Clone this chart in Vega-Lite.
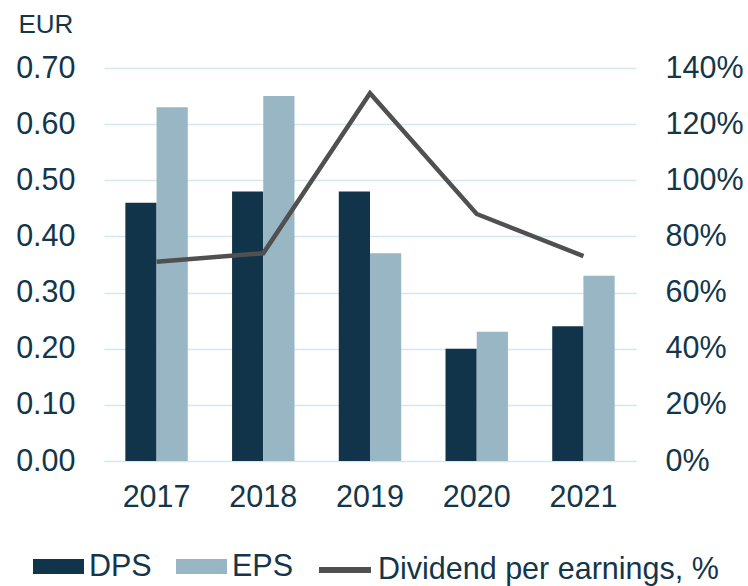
{
  "$schema": "https://vega.github.io/schema/vega-lite/v6.json",
  "autosize": {"type": "none"},
  "width": 532,
  "height": 393,
  "padding": {"left": 104, "top": 68, "right": 112, "bottom": 125},
  "background": "white",
  "config": {
    "view": {"stroke": null},
    "font": "Liberation Sans",
    "axis": {"labelFont": "Liberation Sans", "titleFont": "Liberation Sans", "labelColor": "#14364a", "titleColor": "#14364a"},
    "legend": {"labelFont": "Liberation Sans", "labelColor": "#14364a"}
  },
  "data": {
    "values": [
      {"year": "2017", "DPS": 0.46, "EPS": 0.63, "ratio": 0.71},
      {"year": "2018", "DPS": 0.48, "EPS": 0.65, "ratio": 0.74},
      {"year": "2019", "DPS": 0.48, "EPS": 0.37, "ratio": 1.31},
      {"year": "2020", "DPS": 0.20, "EPS": 0.23, "ratio": 0.88},
      {"year": "2021", "DPS": 0.24, "EPS": 0.33, "ratio": 0.73}
    ]
  },
  "encoding": {
    "x": {
      "field": "year", "type": "nominal",
      "scale": {"paddingInner": 0.415, "paddingOuter": 0.2},
      "axis": {"title": null, "labelAngle": 0, "labelFontSize": 30.5, "labelPadding": 21, "domain": false, "ticks": false}
    }
  },
  "layer": [
    {
      "transform": [{"fold": ["DPS", "EPS"], "as": ["series", "value"]}],
      "mark": {"type": "bar"},
      "encoding": {
        "xOffset": {"field": "series", "type": "nominal", "scale": {"paddingInner": 0, "paddingOuter": 0}},
        "y": {
          "field": "value", "type": "quantitative",
          "scale": {"domain": [0, 0.7], "nice": false},
          "axis": {
            "values": [0, 0.1, 0.2, 0.3, 0.4, 0.5, 0.6, 0.7], "format": ".2f",
            "labelFontSize": 30.5, "labelPadding": 29, "domain": false, "ticks": false,
            "grid": true, "gridColor": "#d3e6f1", "gridWidth": 1.5,
            "title": "EUR", "titleAngle": 0, "titleAlign": "left", "titleBaseline": "top",
            "titleX": -86, "titleY": -57, "titleFontSize": 26, "titleFontWeight": "normal"
          }
        },
        "color": {
          "field": "series", "type": "nominal",
          "scale": {"domain": ["DPS", "EPS"], "range": ["#12344a", "#98b6c3"]},
          "legend": {
            "title": null, "orient": "none", "direction": "horizontal",
            "legendX": -71, "legendY": 473,
            "symbolType": "M-1,-0.29H1V0.29H-1Z", "symbolSize": 2600,
            "symbolStrokeWidth": 0, "labelFontSize": 30.5, "labelOffset": 5, "columnPadding": 24, "labelLimit": 400
          }
        }
      }
    },
    {
      "mark": {"type": "line", "color": "#505050", "strokeWidth": 4.5},
      "encoding": {
        "y": {
          "field": "ratio", "type": "quantitative",
          "scale": {"domain": [0, 1.4], "nice": false},
          "axis": {
            "orient": "right", "values": [0, 0.2, 0.4, 0.6, 0.8, 1.0, 1.2, 1.4], "format": ".0%",
            "labelFontSize": 30.5, "labelPadding": 29, "domain": false, "ticks": false, "grid": false, "title": null
          }
        },
        "stroke": {
          "datum": "Dividend per earnings, %",
          "scale": {"domain": ["Dividend per earnings, %"], "range": ["#505050"]},
          "legend": {
            "title": null, "orient": "none", "legendX": 212, "legendY": 473,
            "symbolType": "stroke", "symbolSize": 2704, "symbolStrokeWidth": 6,
            "labelFontSize": 30.5, "labelOffset": 4, "labelLimit": 500
          }
        }
      }
    }
  ],
  "resolve": {"scale": {"y": "independent"}}
}
